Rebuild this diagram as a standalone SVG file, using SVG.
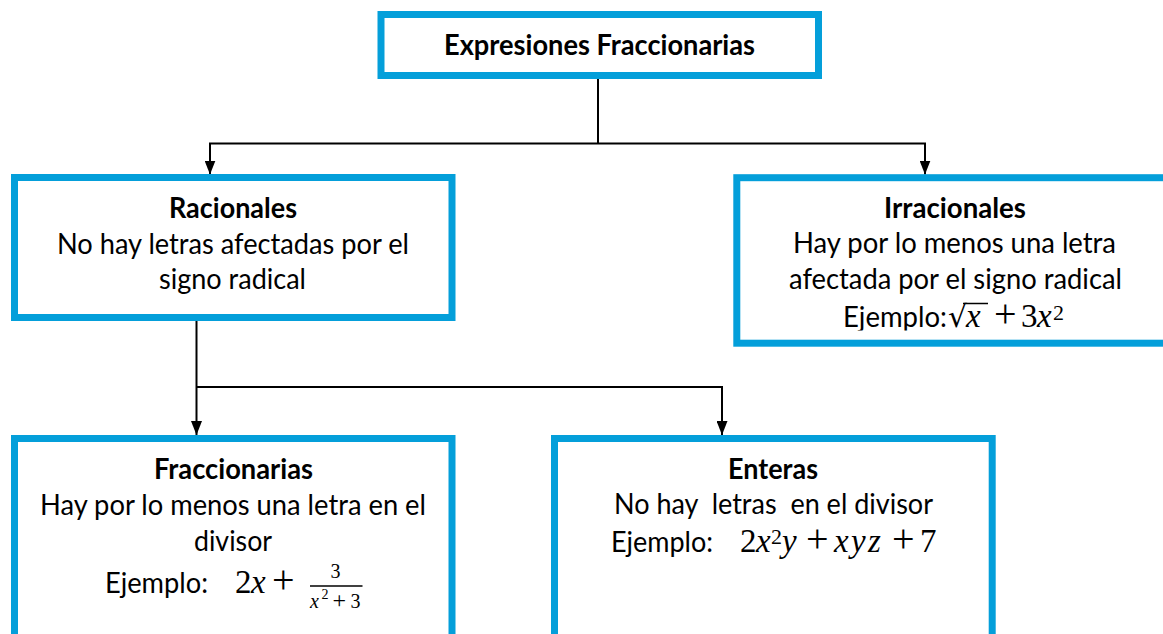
<svg xmlns="http://www.w3.org/2000/svg" width="1163" height="634" viewBox="0 0 1163 634">
  <style>
    .box { fill: #ffffff; stroke: #049FDA; stroke-width: 7; }
    .t { font-family: Lato, "Open Sans", sans-serif; font-size: 28px; fill: #000; }
    .b { font-weight: bold; }
    .m { font-family: "Liberation Serif", "DejaVu Serif", serif; font-size: 33px; fill: #000; }
    .i { font-style: italic; }
    .pl { font-size: 40px; }
    .sup { font-size: 22px; }
    .sm { font-size: 20px; }
    .rad { font-family: "DejaVu Sans", sans-serif; font-size: 30px; fill: #000; }
    .conn { fill: none; stroke: #000; stroke-width: 2; }
    .bar { stroke: #000; stroke-width: 1.5; }
  </style>
  <defs>
    <marker id="arrow" markerUnits="userSpaceOnUse" viewBox="0 0 14 11" refX="14" refY="5.5" markerWidth="14" markerHeight="11" orient="auto">
      <path d="M0,0 L14,5.5 L0,11 Z" fill="#000"/>
    </marker>
    <clipPath id="clipIrr">
      <rect x="740" y="181" width="430" height="149.5"/>
    </clipPath>
  </defs>
  <rect width="1163" height="634" fill="#ffffff"/>

  <g id="connectors">
    <path class="conn" d="M598,79 V143.5"/>
    <path class="conn" d="M209,143.5 H926"/>
    <path class="conn" d="M210,143.5 V174.5" marker-end="url(#arrow)"/>
    <path class="conn" d="M925,143.5 V174.5" marker-end="url(#arrow)"/>
    <path class="conn" d="M196.5,321 V435" marker-end="url(#arrow)"/>
    <path class="conn" d="M196.5,387 H722 V435" marker-end="url(#arrow)"/>
  </g>

  <g id="node-expresiones">
    <rect class="box" x="381" y="14.5" width="437.5" height="61"/>
    <text class="t b" x="444" y="55" textLength="311" lengthAdjust="spacingAndGlyphs">Expresiones Fraccionarias</text>
  </g>

  <g id="node-racionales">
    <rect class="box" x="14.5" y="177.5" width="437.5" height="140"/>
    <text class="t b" x="169" y="218" textLength="128" lengthAdjust="spacingAndGlyphs">Racionales</text>
    <text class="t" x="57" y="254" textLength="352" lengthAdjust="spacingAndGlyphs">No hay letras afectadas por el</text>
    <text class="t" x="159" y="288.5" textLength="147" lengthAdjust="spacingAndGlyphs">signo radical</text>
  </g>

  <g id="node-irracionales">
    <rect class="box" x="736.8" y="177.7" width="500" height="165.5"/>
    <g clip-path="url(#clipIrr)">
      <text class="t b" x="884" y="218" textLength="142" lengthAdjust="spacingAndGlyphs">Irracionales</text>
      <text class="t" x="793" y="253" textLength="323" lengthAdjust="spacingAndGlyphs">Hay por lo menos una letra</text>
      <text class="t" x="789" y="289" textLength="333" lengthAdjust="spacingAndGlyphs">afectada por el signo radical</text>
      <text class="t" x="843" y="327" textLength="104" lengthAdjust="spacingAndGlyphs">Ejemplo:</text>
      <text class="rad" x="948" y="327">√</text>
      <line class="bar" x1="963" y1="303.5" x2="988" y2="303.5"/>
      <text class="m i" x="966" y="327">x</text>
      <text class="m pl" x="994" y="327">+</text>
      <text class="m" x="1021" y="327">3</text>
      <text class="m i" x="1037" y="327">x</text>
      <text class="m sup" x="1053" y="320">2</text>
    </g>
  </g>

  <g id="node-fraccionarias">
    <rect class="box" x="14.5" y="438.5" width="437.5" height="300"/>
    <text class="t b" x="154" y="479" textLength="159" lengthAdjust="spacingAndGlyphs">Fraccionarias</text>
    <text class="t" x="40" y="515" textLength="386" lengthAdjust="spacingAndGlyphs">Hay por lo menos una letra en el</text>
    <text class="t" x="194" y="550.5" textLength="78" lengthAdjust="spacingAndGlyphs">divisor</text>
    <text class="t" x="105" y="593" textLength="103" lengthAdjust="spacingAndGlyphs">Ejemplo:</text>
    <text class="m" x="235" y="593">2</text>
    <text class="m i" x="251" y="593">x</text>
    <text class="m pl" x="272" y="593">+</text>
    <line class="bar" x1="310" y1="586" x2="362.5" y2="586"/>
    <text class="m sm" x="330.5" y="577.5">3</text>
    <text class="m sm i" x="310" y="608">x</text>
    <text class="m" style="font-size:14px" x="321.5" y="599">2</text>
    <text class="m" style="font-size:24px" x="332.5" y="608">+</text>
    <text class="m sm" x="350.5" y="608">3</text>
  </g>

  <g id="node-enteras">
    <rect class="box" x="554.5" y="438.5" width="437.7" height="300"/>
    <text class="t b" x="728" y="479" textLength="90" lengthAdjust="spacingAndGlyphs">Enteras</text>
    <text class="t" x="614" y="514" textLength="319" lengthAdjust="spacingAndGlyphs" xml:space="preserve">No hay  letras  en el divisor</text>
    <text class="t" x="611" y="552" textLength="102" lengthAdjust="spacingAndGlyphs">Ejemplo:</text>
    <text class="m" x="740" y="552">2</text>
    <text class="m i" x="756" y="552">x</text>
    <text class="m sup" x="771" y="544">2</text>
    <text class="m i" x="782" y="552">y</text>
    <text class="m pl" x="806" y="552">+</text>
    <text class="m i" x="834" y="552">x</text>
    <text class="m i" x="851" y="552">y</text>
    <text class="m i" x="868" y="552">z</text>
    <text class="m pl" x="892" y="552">+</text>
    <text class="m" x="920" y="552">7</text>
  </g>
</svg>
